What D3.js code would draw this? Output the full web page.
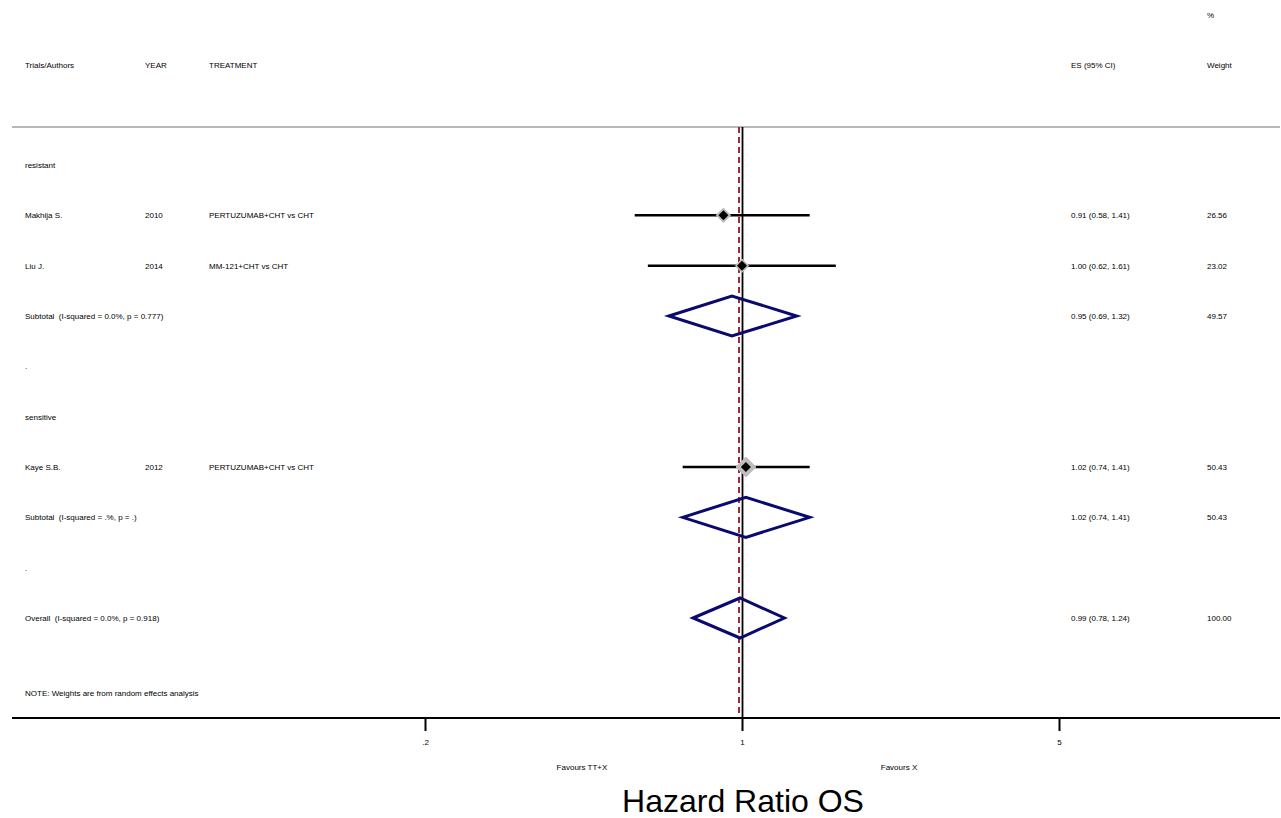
<!DOCTYPE html>
<html><head><meta charset="utf-8">
<script src="https://cdn.jsdelivr.net/npm/d3@7"></script>
<style>body{margin:0;background:#fff}svg{display:block}text{font-family:"Liberation Sans",Arial,Helvetica,sans-serif;white-space:pre}</style>
</head><body><svg id="c" width="1281" height="818"></svg>
<script>
// ---- data ----
const rowLabels = ["resistant","Makhija S.","Liu J.","Subtotal  (I-squared = 0.0%, p = 0.777)",".","sensitive","Kaye S.B.","Subtotal  (I-squared = .%, p = .)",".","Overall  (I-squared = 0.0%, p = 0.918)"];
const rowTypes  = ["group","study","study","subtotal","blank","group","study","subtotal","blank","overall"];
const years      = ["","2010","2014","","","","2012","","",""];
const treatments = ["","PERTUZUMAB+CHT vs CHT","MM-121+CHT vs CHT","","","","PERTUZUMAB+CHT vs CHT","","",""];
const es      = [null,0.91,1.00,0.95,null,null,1.02,1.02,null,0.99];
const ciLow   = [null,0.58,0.62,0.69,null,null,0.74,0.74,null,0.78];
const ciHigh  = [null,1.41,1.61,1.32,null,null,1.41,1.41,null,1.24];
const weights = [null,26.56,23.02,49.57,null,null,50.43,50.43,null,100.00];
const esText  = ["","0.91 (0.58, 1.41)","1.00 (0.62, 1.61)","0.95 (0.69, 1.32)","","","1.02 (0.74, 1.41)","1.02 (0.74, 1.41)","","0.99 (0.78, 1.24)"];
const weightText = ["","26.56","23.02","49.57","","","50.43","50.43","","100.00"];
const xTicks = [0.2,1,5];
const xTickLabels = [".2","1","5"];
const overallES = 0.99;
const note = "NOTE: Weights are from random effects analysis";

// ---- layout ----
const svg = d3.select("#c");
const x = d3.scaleLog().domain([0.2,5]).range([425,1059]);
const y = d3.scaleLinear().domain([0,9]).range([165,618]);
const yTop = 127, yBottom = 718;
const fs = "8px";

// header
const hdr = svg.append("g").attr("font-size",fs).attr("fill","#000");
hdr.append("text").attr("x",25).attr("y",68).text("Trials/Authors");
hdr.append("text").attr("x",145).attr("y",68).text("YEAR");
hdr.append("text").attr("x",209).attr("y",68).text("TREATMENT");
hdr.append("text").attr("x",1071).attr("y",68).text("ES (95% CI)");
hdr.append("text").attr("x",1207).attr("y",68).text("Weight");
hdr.append("text").attr("x",1207).attr("y",18).text("%");

svg.append("line").attr("x1",12).attr("x2",1280).attr("y1",yTop).attr("y2",yTop)
  .attr("stroke","#b8b8b8").attr("stroke-width",2);

// overall dashed line
svg.append("line").attr("x1",x(overallES)-1).attr("x2",x(overallES)-1).attr("y1",yTop).attr("y2",yBottom)
  .attr("stroke","#a0283a").attr("stroke-width",2).attr("stroke-dasharray","6,4");
// reference line at 1
svg.append("line").attr("x1",x(1)+0.5).attr("x2",x(1)+0.5).attr("y1",yTop).attr("y2",yBottom)
  .attr("stroke","#000").attr("stroke-width",1.8);

const rows = rowLabels.map((l,i)=>({i,l,t:rowTypes[i],yr:years[i],tr:treatments[i],es:es[i],lo:ciLow[i],hi:ciHigh[i],w:weights[i],est:esText[i],wt:weightText[i]}));

// text columns
const tg = svg.append("g").attr("font-size",fs).attr("fill","#000");
rows.forEach(r=>{
  const yy = y(r.i)+3;
  tg.append("text").attr("x",25).attr("y",yy).text(r.l);
  if(r.yr) tg.append("text").attr("x",145).attr("y",yy).text(r.yr);
  if(r.tr) tg.append("text").attr("x",209).attr("y",yy).text(r.tr);
  if(r.est) tg.append("text").attr("x",1071).attr("y",yy).text(r.est);
  if(r.wt) tg.append("text").attr("x",1207).attr("y",yy).text(r.wt);
});
tg.append("text").attr("x",25).attr("y",696).text(note);

// studies
const studies = rows.filter(r=>r.t==="study");
const sz = d3.scaleSqrt().domain([0,100]).range([0,14]);
const mg = svg.append("g");
studies.forEach(r=>{
  const yy = y(r.i);
  mg.append("line").attr("x1",x(r.lo)).attr("x2",x(r.hi)).attr("y1",yy).attr("y2",yy)
    .attr("stroke","#000").attr("stroke-width",2.5);
  const s = sz(r.w), cx = x(r.es);
  mg.append("path").attr("d",`M${cx},${yy-s}L${cx+s},${yy}L${cx},${yy+s}L${cx-s},${yy}Z`)
    .attr("fill","#bdbdbd").attr("stroke","#bdbdbd").attr("stroke-width",1);
  const b = 5;
  mg.append("path").attr("d",`M${cx},${yy-b}L${cx+b},${yy}L${cx},${yy+b}L${cx-b},${yy}Z`)
    .attr("fill","#000");
});

// pooled diamonds
rows.filter(r=>r.t==="subtotal"||r.t==="overall").forEach(r=>{
  const yy = y(r.i), h = 20;
  mg.append("path").attr("d",`M${x(r.lo)},${yy}L${x(r.es)},${yy-h}L${x(r.hi)},${yy}L${x(r.es)},${yy+h}Z`)
    .attr("fill","none").attr("stroke","#0a0a6e").attr("stroke-width",3).attr("stroke-linejoin","miter");
});

// axis
svg.append("line").attr("x1",12).attr("x2",1280).attr("y1",yBottom).attr("y2",yBottom)
  .attr("stroke","#000").attr("stroke-width",2);
const axis = d3.axisBottom(x).tickValues(xTicks).tickFormat((d,i)=>xTickLabels[i]).tickSize(13).tickPadding(8);
const ag = svg.append("g").attr("transform",`translate(0,${yBottom})`).call(axis);
ag.select(".domain").remove();
ag.selectAll(".tick line").attr("stroke","#000").attr("stroke-width",2);
ag.selectAll(".tick text").attr("font-size",fs).attr("font-family","Liberation Sans, Arial, sans-serif").attr("fill","#000");

svg.append("text").attr("x",582).attr("y",770).attr("text-anchor","middle").attr("font-size",fs).text("Favours TT+X");
svg.append("text").attr("x",899).attr("y",770).attr("text-anchor","middle").attr("font-size",fs).text("Favours X");
svg.append("text").attr("x",743).attr("y",812).attr("text-anchor","middle").attr("font-size","32px").text("Hazard Ratio OS");
</script></body></html>
